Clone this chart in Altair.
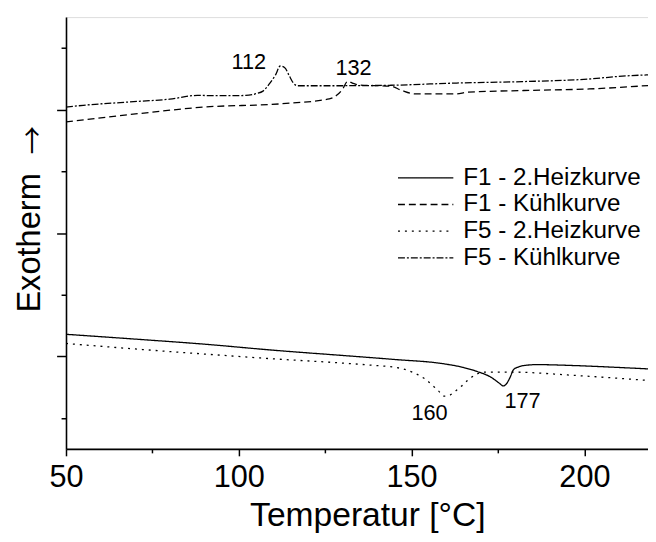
import altair as alt
import pandas as pd

# ---- data ----
series_names = ["F1 - 2.Heizkurve", "F1 - Kühlkurve", "F5 - 2.Heizkurve", "F5 - Kühlkurve"]

f1_heat_T = [50, 70, 90, 110, 130.9, 145, 159.5, 165, 169, 172.9, 175.5, 176.5, 177.5, 178.5, 179.5, 181, 183, 186.2, 197.6, 210, 218.4]
f1_heat_v = [1.858, 1.78, 1.698, 1.60, 1.511, 1.45, 1.378, 1.32, 1.254, 1.164, 1.06, 1.02, 1.06, 1.16, 1.286, 1.33, 1.355, 1.366, 1.35, 1.32, 1.297]

f1_cool_T = [50, 70.9, 90, 112.4, 126.2, 128.5, 130, 131.5, 133, 135, 144, 147, 151, 163, 166, 182.4, 201.4, 218.4]
f1_cool_v = [5.302, 5.435, 5.542, 5.595, 5.675, 5.74, 5.83, 5.959, 5.927, 5.899, 5.879, 5.815, 5.755, 5.755, 5.782, 5.810, 5.835, 5.890]

f5_heat_T = [50, 70, 90, 110, 130.9, 140, 145.2, 150, 153.8, 157.6, 159.5, 161, 162.4, 164.5, 166.2, 169, 171, 178.6, 197.6, 218.4]
f5_heat_v = [1.709, 1.62, 1.538, 1.46, 1.388, 1.35, 1.324, 1.25, 1.137, 0.95, 0.854, 0.87, 0.924, 1.02, 1.110, 1.217, 1.245, 1.245, 1.19, 1.11]

f5_cool_T = [50, 55, 71, 80, 88, 95, 102, 105, 107, 109, 110.6, 112, 113.3, 114.5, 115.8, 117, 128, 137, 144, 163, 182, 201, 212, 218.4]
f5_cool_v = [5.542, 5.570, 5.634, 5.670, 5.730, 5.726, 5.730, 5.758, 5.80, 5.93, 6.06, 6.207, 6.18, 6.06, 5.93, 5.887, 5.887, 5.890, 5.895, 5.931, 5.954, 5.995, 6.047, 6.063]

peak_labels = ["112", "132", "160", "177"]
peak_T = [102.9, 133.2, 155.2, 182.1]
peak_v = [6.151, 6.055, 0.465, 0.657]

x_ticks = [50, 75, 100, 125, 150, 175, 200]
y_ticks = [0.5, 1.5, 2.5, 3.5, 4.5, 5.5, 6.5]

dash_styles = [[1, 0], [7, 4], [2, 5], [7, 2, 2, 2]]

# ---- build table ----
rows = []
for name, ts, vs in zip(series_names,
                        [f1_heat_T, f1_cool_T, f5_heat_T, f5_cool_T],
                        [f1_heat_v, f1_cool_v, f5_heat_v, f5_cool_v]):
    for i, (t, v) in enumerate(zip(ts, vs)):
        rows.append({"T": t, "v": v, "series": name, "i": i})
df = pd.DataFrame(rows)
ann = pd.DataFrame({"label": peak_labels, "T": peak_T, "v": peak_v})

FONT = "Liberation Sans"

x_scale = alt.Scale(domain=[50, 218.4], nice=False, zero=False)
y_scale = alt.Scale(domain=[0, 7], nice=False, zero=False)

x_axis = alt.Axis(
    values=x_ticks,
    labelExpr="datum.value % 50 == 0 ? datum.label : ''",
    tickSize={"condition": {"test": "datum.value % 50 == 0", "value": 7}, "value": 4},
    labelFontSize=31, labelFont=FONT, labelColor="black", labelPadding=6.7,
    title="Temperatur [°C]", titleFontSize=34, titleFont=FONT, titleFontWeight="normal",
    titleColor="black", titleBaseline="alphabetic", titleY=78, titleX=305,
    domainColor="black", domainWidth=1.6, tickColor="black", tickWidth=1.5,
    grid=False, labelFlush=False,
)
y_axis = alt.Axis(
    orient="left", values=y_ticks, labels=False,
    tickSize={"condition": {"test": "datum.value == 1.5 || datum.value == 3.5 || datum.value == 5.5",
                            "value": 9.5}, "value": 5},
    title="Exotherm", titleFontSize=33, titleFont=FONT, titleFontWeight="normal",
    titleColor="black", titleBaseline="alphabetic", titleAngle=270,
    titleX=-27, titleY=228, titleAlign="center",
    domainColor="black", domainWidth=1.6, tickColor="black", tickWidth=1.5,
    grid=False,
)
arrow_axis = alt.Axis(
    orient="left", labels=False, ticks=False, domain=False, grid=False,
    title="→", titleFontSize=29, titleFont="Noto Sans CJK JP", titleFontWeight="normal",
    titleColor="black", titleBaseline="middle", titleAngle=270,
    titleX=-32.6, titleY=124, titleAlign="center",
)

lines = alt.Chart(df).mark_line(color="black", strokeWidth=1.3, interpolate="monotone", clip=True).encode(
    x=alt.X("T:Q", scale=x_scale, axis=x_axis),
    y=alt.Y("v:Q", scale=y_scale, axis=y_axis),
    strokeDash=alt.StrokeDash(
        "series:N",
        scale=alt.Scale(domain=series_names, range=dash_styles),
        legend=alt.Legend(
            title=None, orient="none", legendX=335, legendY=149.3,
            symbolType="stroke", symbolSize=3136, symbolStrokeWidth=1.3,
            symbolStrokeColor="black", labelFont=FONT, labelFontSize=24.5,
            labelColor="black", labelLimit=400, clipHeight=26.7, rowPadding=0,
            labelOffset=9, padding=0,
        ),
    ),
    order=alt.Order("i:Q"),
)

texts = alt.Chart(ann).mark_text(font=FONT, fontSize=22, color="black",
                                 baseline="alphabetic", align="center").encode(
    x=alt.X("T:Q", scale=x_scale),
    y=alt.Y("v:Q", scale=y_scale, axis=arrow_axis),
    text="label:N",
)

chart = alt.layer(lines, texts).resolve_axis(y="independent").properties(
    width=589, height=437,
    padding={"left": 58.7, "top": 6, "right": 0, "bottom": 90},
    autosize=alt.AutoSizeParams(type="none"),
).configure_view(stroke=None).configure(background="white")

chart.save("out.html", embed_options={"renderer": "svg", "actions": False})
